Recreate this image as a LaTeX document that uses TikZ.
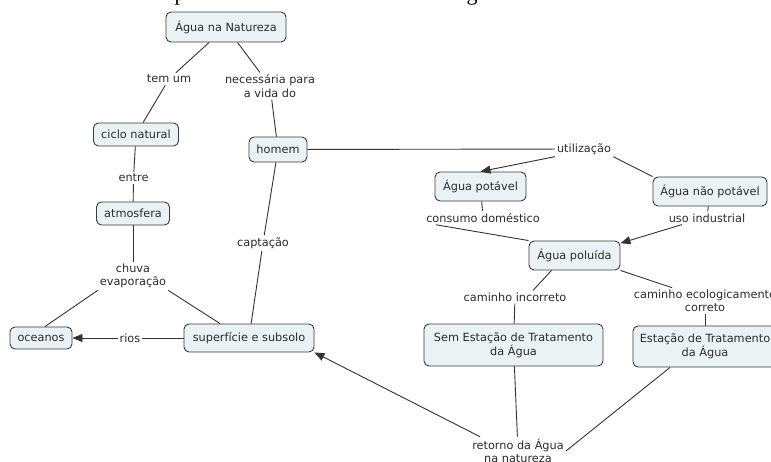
\documentclass[tikz,border=0pt]{standalone}
\usepackage{fontspec}
\setmainfont{DejaVu Sans}
\newfontfamily\headserif{Liberation Serif}
\usetikzlibrary{arrows.meta}

\definecolor{boxfill}{HTML}{EBF2F6}
\definecolor{boxline}{HTML}{3A3A3A}
\definecolor{ink}{HTML}{2B2B2B}
\definecolor{wire}{HTML}{333333}

\tikzset{
  concept/.style={draw=boxline, fill=boxfill, rounded corners=5pt,
    line width=0.9pt, align=center, inner sep=0pt, text=ink,
    font=\fontsize{11.3}{14}\selectfont},
  linkword/.style={align=center, inner sep=2pt, text=ink,
    font=\fontsize{11.3}{13.5}\selectfont},
  wireline/.style={draw=wire, line width=0.9pt},
  wirearrow/.style={wireline, -{Triangle[length=10pt,width=8pt]}},
}

\begin{document}
\begin{tikzpicture}[x=1pt,y=-1pt]
  \useasboundingbox[fill=white] (0,0) rectangle (771,462);

  % lower edge of the line of text above the map
  \node[anchor=base, inner sep=0pt, font=\fontsize{22}{22}\selectfont\headserif] (capp) at (180,0.3) {p};
  \node[anchor=base, inner sep=0pt, font=\fontsize{22}{22}\selectfont\headserif] (capg) at (472,0.3) {g};

  % concepts
  \node[concept, minimum width=120, minimum height=30] (nat)   at (226,27)      {Água na Natureza};
  \node[concept, minimum width=85,  minimum height=23] (ciclo) at (136,134.5)   {ciclo natural};
  \node[concept, minimum width=73,  minimum height=23] (atm)   at (133,213.5)   {atmosfera};
  \node[concept, minimum width=62,  minimum height=22] (oce)   at (41,338)      {oceanos};
  \node[concept, minimum width=130, minimum height=28] (sup)   at (249,338)     {superfície e subsolo};
  \node[concept, minimum width=58,  minimum height=25] (hom)   at (278,149.5)   {homem};
  \node[concept, minimum width=91,  minimum height=29] (pot)   at (480.5,186.5) {Água potável};
  \node[concept, minimum width=114, minimum height=29] (naop)  at (710,191.5)   {Água não potável};
  \node[concept, minimum width=91,  minimum height=29] (polu)  at (574.5,255.5) {Água poluída};
  \node[concept, minimum width=179, minimum height=42] (sem)   at (513.5,345)   {Sem Estação de Tratamento\\da Água};
  \node[concept, minimum width=144, minimum height=41] (est)   at (705,346.5)   {Estação de Tratamento\\da Água};

  % linking phrases
  \node[linkword] (temum) at (169,79)    {tem um};
  \node[linkword] (nec)   at (270,86)    {necessária para\\a vida do};
  \node[linkword] (entre) at (133.5,178) {entre};
  \node[linkword] (chuva) at (133,276)   {chuva\\evaporação};
  \node[linkword] (capt)  at (263,243)   {captação};
  \node[linkword] (rios)  at (130,338)   {rios};
  \node[linkword] (util)  at (584,149)   {utilização};
  \node[linkword] (cons)  at (483,218)   {consumo doméstico};
  \node[linkword] (uso)   at (707,218)   {uso industrial};
  \node[linkword] (incor) at (515,297)   {caminho incorreto};
  \node[linkword] (eco)   at (705,301)   {caminho ecologicamente\\correto};
  \node[linkword] (ret)   at (518,451)   {retorno da Água\\na natureza};

  % connections
  \draw[wireline] (nat) -- (temum);
  \draw[wireline] (temum) -- (ciclo);
  \draw[wireline] (nat) -- (nec);
  \draw[wireline] (nec) -- (hom);
  \draw[wireline] (ciclo) -- (entre);
  \draw[wireline] (entre) -- (atm);
  \draw[wireline] (atm) -- (chuva);
  \draw[wireline] (chuva.south west) -- ([xshift=4]oce.north);
  \draw[wireline] (chuva.south east) -- ([xshift=-29]sup.north);
  \draw[wireline] (hom) -- (capt);
  \draw[wireline] (capt) -- (sup);
  \draw[wireline] (sup) -- (rios);
  \draw[wirearrow] (rios) -- (oce);
  \draw[wireline] (hom) -- (util);
  \draw[wirearrow] (util.south west) -- (pot.north);
  \draw[wireline] (util.south east) -- (naop.north west);
  \draw[wireline] (pot) -- (cons);
  \draw[wireline] (naop) -- (uso);
  \draw[wireline] ([xshift=12]cons.south west) -- (polu.north west);
  \draw[wirearrow] ([xshift=-25]uso.south) -- (polu.15);
  \draw[wireline] ([xshift=-23]polu.south) -- ([xshift=18]incor.north);
  \draw[wireline] (polu.south east) -- ([xshift=-33]eco.north);
  \draw[wireline] (incor) -- (sem);
  \draw[wireline] (eco) -- (est);
  \draw[wireline] (sem) -- (ret);
  \draw[wireline] ([xshift=-35]est.south) -- (ret.east);
  \draw[wirearrow] ([xshift=10]ret.north west) -- (sup.south east);
\end{tikzpicture}
\end{document}
